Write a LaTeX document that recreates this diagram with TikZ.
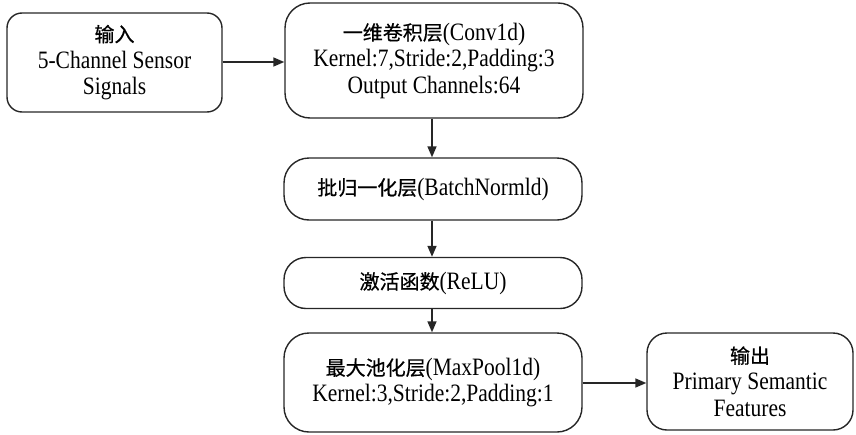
\documentclass[tikz,border=0pt]{standalone}
\usepackage{fontspec}
\setmainfont{Liberation Serif}[FakeStretch=0.86]
\newfontfamily\cjk{Noto Sans CJK SC}[Scale=0.8,FakeBold=0.6]
\usetikzlibrary{arrows.meta}
\begin{document}
\begin{tikzpicture}[x=1pt,y=-1pt,
  box/.style={draw=black!85,line width=1.4pt,align=center,inner sep=0pt,
    font=\fontsize{25}{26.5}\selectfont},
  conn/.style={draw=black!85,line width=1.6pt,-{Triangle[length=11pt,width=9pt]}}]
\useasboundingbox (0,0) rectangle (856,434);
\node[box,rounded corners=15pt,minimum width=215pt,minimum height=99pt] (in) at (114.5,62.5)
  {{\cjk 输入}\\5-Channel Sensor\\Signals};
\node[box,rounded corners=25pt,minimum width=298pt,minimum height=115pt] (conv) at (434,60.5)
  {{\cjk 一维卷积层}(Conv1d)\\Kernel:7,Stride:2,Padding:3\\Output Channels:64};
\node[box,rounded corners=25pt,minimum width=298pt,minimum height=62pt] (bn) at (433,189)
  {{\cjk 批归一化层}(BatchNormld)};
\node[box,rounded corners=22pt,minimum width=298pt,minimum height=51pt] (relu) at (433,283)
  {{\cjk 激活函数}(ReLU)};
\node[box,rounded corners=25pt,minimum width=298pt,minimum height=99pt] (mp) at (433,382.5)
  {{\cjk 最大池化层}(MaxPool1d)\\Kernel:3,Stride:2,Padding:1};
\node[box,rounded corners=20pt,minimum width=206pt,minimum height=97pt] (out) at (750,381.5)
  {{\cjk 输出}\\Primary Semantic\\Features};
\draw[conn] (in.east |- 0,62) -- (conv.west |- 0,62);
\draw[conn] (conv.south -| 432,0) -- (bn.north -| 432,0);
\draw[conn] (bn.south -| 432,0) -- (relu.north -| 432,0);
\draw[conn] (relu.south -| 432,0) -- (mp.north -| 432,0);
\draw[conn] (mp.east |- 0,383) -- (out.west |- 0,383);
\end{tikzpicture}
\end{document}
